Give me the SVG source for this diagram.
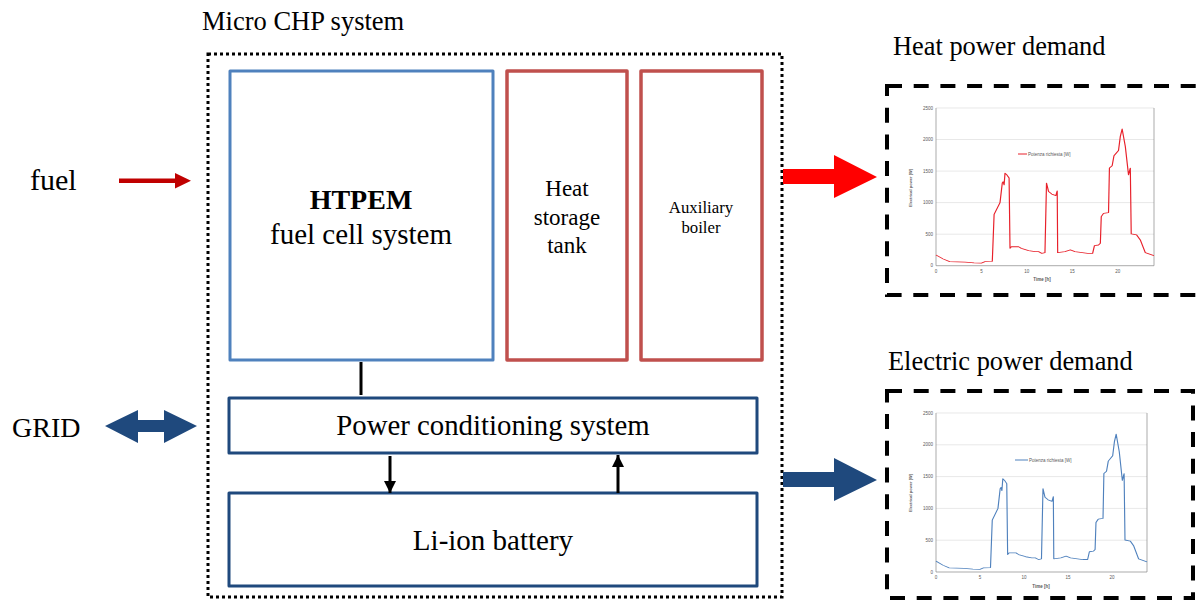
<svg xmlns="http://www.w3.org/2000/svg" xmlns:xlink="http://www.w3.org/1999/xlink" width="1202" height="601" viewBox="0 0 1202 601">
  <style>
    .t { font-family: "Liberation Serif", "Times New Roman", serif; fill: #000; }
    .blk { fill: #fff; stroke-width: 3; stroke-linejoin: round; }
    .htpem { stroke: #4f81bd; }
    .heat { stroke: #c0504d; stroke-width: 3.5; }
    .elec { stroke: #1f497d; }
    .dash { fill: none; stroke: #000; stroke-width: 4; stroke-dasharray: 15 11.7; }
    .ax { font-family: "Liberation Sans", Arial, sans-serif; font-size: 4.5px; fill: #595959; }
    .grid { stroke: #d9d9d9; stroke-width: 0.6; }
    .axis { stroke: #868686; stroke-width: 0.7; fill: none; }
    .curve { fill: none; stroke-width: 1.3; stroke-linejoin: round; vector-effect: non-scaling-stroke; }
  </style>
  <defs>
    <marker id="ah" viewBox="0 0 10 10" refX="10" refY="5" markerWidth="4" markerHeight="4.5" orient="auto" markerUnits="strokeWidth">
      <path d="M0,0 L10,5 L0,10 Z" fill="#000"/>
    </marker>
    <!-- daily demand profile: x = hours*10, y = -W/10 -->
    <path id="profile" d="M0,-17 L8,-10.6 L15,-6.4 L32,-5.8 L42,-4.6 L50,-4.2 L54,-6.4 L62,-6.9 L64,-81.5 L70.5,-100 L73,-131 L74,-133 L75,-128 L76,-146.7 L78,-144 L80.5,-139 L81.5,-27.5 L83,-30 L91,-30 L94,-27.5 L102,-24 L109,-22.2 L113,-22.2 L116.5,-19.6 L120,-20.7 L121.7,-131 L124,-117.5 L127.5,-113.5 L132,-111 L133.5,-118.5 L134,-20.7 L142,-22.2 L148,-25 L153,-22.2 L161,-20.7 L167,-19.6 L172.5,-19.6 L174.5,-31.8 L179,-32.8 L181,-35.5 L182,-77.8 L184.5,-83 L190,-84.2 L191,-154.7 L194,-158.4 L196,-174.3 L201,-182.7 L203,-205 L205,-216.7 L208.5,-189 L212,-144 L214,-154.7 L215,-50.3 L221,-48.7 L225,-40.8 L230.5,-20.7 L240,-15.9"/>
  </defs>

  <rect width="1202" height="601" fill="#fff"/>

  <!-- system boundary -->
  <g id="micro-chp">
    <rect x="208" y="54" width="574" height="543" fill="none" stroke="#000" stroke-width="3" stroke-dasharray="3 3"/>
    <text class="t" x="202" y="30" font-size="26.5">Micro CHP system</text>
  </g>

  <g id="htpem">
    <rect class="blk htpem" x="230" y="71" width="263" height="289"/>
    <text class="t" x="361" y="209" font-size="28" font-weight="bold" text-anchor="middle">HTPEM</text>
    <text class="t" x="361" y="244" font-size="29" text-anchor="middle">fuel cell system</text>
  </g>

  <g id="heat-storage">
    <rect class="blk heat" x="507" y="71" width="120" height="289"/>
    <text class="t" x="567" y="196" font-size="23" text-anchor="middle">Heat</text>
    <text class="t" x="567" y="225" font-size="23" text-anchor="middle">storage</text>
    <text class="t" x="567" y="253" font-size="23" text-anchor="middle">tank</text>
  </g>

  <g id="aux-boiler">
    <rect class="blk heat" x="641" y="71" width="121" height="289"/>
    <text class="t" x="701" y="213" font-size="16.8" text-anchor="middle">Auxiliary</text>
    <text class="t" x="701" y="233" font-size="16.8" text-anchor="middle">boiler</text>
  </g>

  <g id="pcs">
    <rect class="blk elec" x="229" y="398" width="528" height="55"/>
    <text class="t" x="493" y="435" font-size="28.8" text-anchor="middle">Power conditioning system</text>
  </g>

  <g id="battery">
    <rect class="blk elec" x="229" y="493" width="528" height="93"/>
    <text class="t" x="493" y="550" font-size="29" text-anchor="middle">Li-ion battery</text>
  </g>

  <g id="fuel-label"><text class="t" x="30" y="190" font-size="30">fuel</text></g>
  <g id="grid-label"><text class="t" x="12" y="437" font-size="28">GRID</text></g>

  <!-- connectors -->
  <g id="connectors">
    <line x1="361" y1="362" x2="361" y2="395" stroke="#000" stroke-width="3"/>
    <line x1="390" y1="456" x2="390" y2="493" stroke="#000" stroke-width="3" marker-end="url(#ah)"/>
    <line x1="618" y1="493" x2="618" y2="455" stroke="#000" stroke-width="3" marker-end="url(#ah)"/>
    <!-- fuel input -->
    <path d="M119,178.5 H175 V173 L191,180.7 L175,188.5 V183 H119 Z" fill="#c00000"/>
    <!-- grid exchange -->
    <path d="M105,426 L138,410 V420 H164 V410 L197,426 L164,443 V432 H138 V443 Z" fill="#1f497d"/>
    <!-- heat output -->
    <path d="M783,169 H834 V155 L877,177 L834,198 V184 H783 Z" fill="#ff0000"/>
    <!-- electric output -->
    <path d="M783,472 H834 V458 L877,480 L834,501 V487 H783 Z" fill="#1f497d"/>
  </g>

  <!-- heat demand chart -->
  <g id="heat-demand">
    <text class="t" x="893" y="55" font-size="26.4">Heat power demand</text>
    <rect class="dash" x="887" y="86" width="330" height="209"/>
    <g class="grid">
      <line x1="936" y1="234.2" x2="1154" y2="234.2"/>
      <line x1="936" y1="202.6" x2="1154" y2="202.6"/>
      <line x1="936" y1="171.1" x2="1154" y2="171.1"/>
      <line x1="936" y1="139.5" x2="1154" y2="139.5"/>
      <line x1="936" y1="108" x2="1154" y2="108"/>
    </g>
    <path class="axis" d="M936,108 V265.7 H1154 V108"/>
    <g class="ax" text-anchor="end">
      <text x="933" y="267.2">0</text>
      <text x="933" y="235.7">500</text>
      <text x="933" y="204.1">1000</text>
      <text x="933" y="172.6">1500</text>
      <text x="933" y="141">2000</text>
      <text x="933" y="109.5">2500</text>
    </g>
    <g class="ax" text-anchor="middle">
      <text x="936" y="273">0</text>
      <text x="981.4" y="273">5</text>
      <text x="1026.8" y="273">10</text>
      <text x="1072.3" y="273">15</text>
      <text x="1117.7" y="273">20</text>
      <text x="1042" y="281" font-weight="bold">Time [h]</text>
      <text transform="translate(912,188) rotate(-90)" font-weight="bold" font-size="4">Electrical power [W]</text>
    </g>
    <line x1="1018" y1="154" x2="1027" y2="154" stroke="#e8202a" stroke-width="1"/>
    <text class="ax" x="1028" y="155.5" font-size="4">Potenza richiesta [W]</text>
    <use href="#profile" xlink:href="#profile" class="curve" stroke="#e8202a" transform="translate(936,265.7) scale(0.908,0.631)"/>
  </g>

  <!-- electric demand chart -->
  <g id="electric-demand">
    <text class="t" x="888" y="370" font-size="26.4">Electric power demand</text>
    <rect class="dash" x="887" y="391" width="306" height="207"/>
    <g class="grid">
      <line x1="936" y1="540.2" x2="1147" y2="540.2"/>
      <line x1="936" y1="508.4" x2="1147" y2="508.4"/>
      <line x1="936" y1="476.6" x2="1147" y2="476.6"/>
      <line x1="936" y1="444.8" x2="1147" y2="444.8"/>
      <line x1="936" y1="413" x2="1147" y2="413"/>
    </g>
    <path class="axis" d="M936,413 V572 H1147 V413"/>
    <g class="ax" text-anchor="end">
      <text x="933" y="573.5">0</text>
      <text x="933" y="541.7">500</text>
      <text x="933" y="509.9">1000</text>
      <text x="933" y="478.1">1500</text>
      <text x="933" y="446.3">2000</text>
      <text x="933" y="414.5">2500</text>
    </g>
    <g class="ax" text-anchor="middle">
      <text x="936" y="579">0</text>
      <text x="980" y="579">5</text>
      <text x="1024" y="579">10</text>
      <text x="1068" y="579">15</text>
      <text x="1112" y="579">20</text>
      <text x="1041" y="588" font-weight="bold">Time [h]</text>
      <text transform="translate(912,493) rotate(-90)" font-weight="bold" font-size="4">Electrical power [W]</text>
    </g>
    <line x1="1015" y1="460" x2="1028" y2="460" stroke="#4f81bd" stroke-width="1"/>
    <text class="ax" x="1029" y="461.5" font-size="4">Potenza richiesta [W]</text>
    <use href="#profile" xlink:href="#profile" class="curve" stroke="#4f81bd" transform="translate(936,572) scale(0.879,0.636)"/>
  </g>
</svg>
